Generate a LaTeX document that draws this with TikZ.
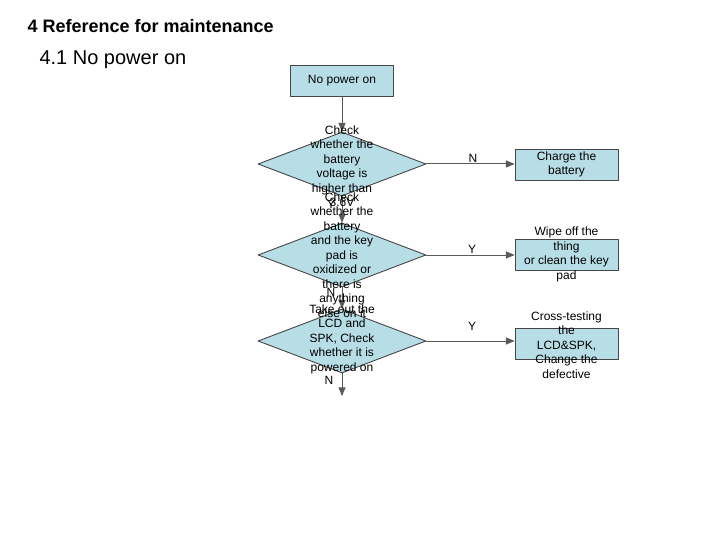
\documentclass[tikz,border=0pt]{standalone}
\usepackage{fontspec}
\setmainfont{Liberation Sans}
\usetikzlibrary{arrows,shapes.geometric}
\definecolor{boxfill}{RGB}{183,222,230}
\definecolor{boxline}{RGB}{70,70,70}
\definecolor{flowline}{RGB}{90,90,90}
\tikzset{
  procbox/.style={draw=boxline,fill=boxfill,line width=0.9pt,minimum width=103pt,minimum height=31pt,inner sep=0pt},
  decision/.style={diamond,draw=boxline,fill=boxfill,line width=0.9pt,minimum width=168pt,minimum height=64pt,inner sep=0pt},
  flowtext/.style={align=center,font=\fontsize{12}{14.5}\selectfont,inner sep=0pt},
  flow/.style={->,draw=flowline,line width=1pt},
  yn/.style={font=\fontsize{12}{14}\selectfont,inner sep=0pt}
}
\begin{document}
\begin{tikzpicture}[line cap=round,line join=round,>=triangle 45,x=1pt,y=-1pt]
	\useasboundingbox (0,0) rectangle (720,540);
	\node[anchor=west,font=\bfseries\fontsize{18}{21}\selectfont] (title) at (24,26) {4 Reference for maintenance};
	\node[anchor=west,font=\fontsize{20}{24}\selectfont] (subtitle) at (36,60) {4.1 No power on};
	% flow chart boxes
	\node[procbox] (start) at (342,81) {};
	\node[flowtext] at (start) {No power on};
	\node[decision] (d1) at (342,164) {};
	\node[decision] (d2) at (342,255) {};
	\node[decision] (d3) at (342,341) {};
	\node[procbox] (b1) at (566.5,164.5) {};
	\node[procbox] (b2) at (566.5,254.5) {};
	\node[procbox] (b3) at (566.5,344) {};
	\coordinate (end) at (342,396);
	% connectors
	\draw[flow] (start.south) -- (d1.north);
	\draw[flow] (d1.south) -- (d2.north);
	\draw[flow] (d2.south) -- (d3.north);
	\draw[flow] (d3.south) -- (end);
	\draw[flow] (d1.east) -- (d1.east -| b1.west);
	\draw[flow] (d2.east) -- (d2.east -| b2.west);
	\draw[flow] (d3.east) -- (d3.east -| b3.west);
	% texts
	\node[flowtext] (t1) at (342,166) {Check\\whether the\\battery\\voltage is\\higher than\\3.6V};
	\node[flowtext] (t2) at (342,255) {Check\\whether the\\battery\\and the key\\pad is\\oxidized or\\there is\\anything\\else on it};
	\node[flowtext] (t3) at (342,339) {Take out the\\LCD and\\SPK, Check\\whether it is\\powered on};
	\node[flowtext] (tb1) at (b1) {Charge the\\battery};
	\node[flowtext] (tb2) at (b2) {Wipe off the\\thing\\or clean the key\\pad};
	\node[flowtext] (tb3) at (566.5,345) {Cross-testing\\the\\LCD\&SPK,\\Change the\\defective};
	\node[yn] (y1) at (331,204) {Y};
	\node[yn] (n2) at (331,292) {N};
	\node[yn] (n3) at (329,380) {N};
	\node[yn] (n1) at (473,158) {N};
	\node[yn] (y2) at (472,249) {Y};
	\node[yn] (y3) at (472,326) {Y};
\end{tikzpicture}
\end{document}
